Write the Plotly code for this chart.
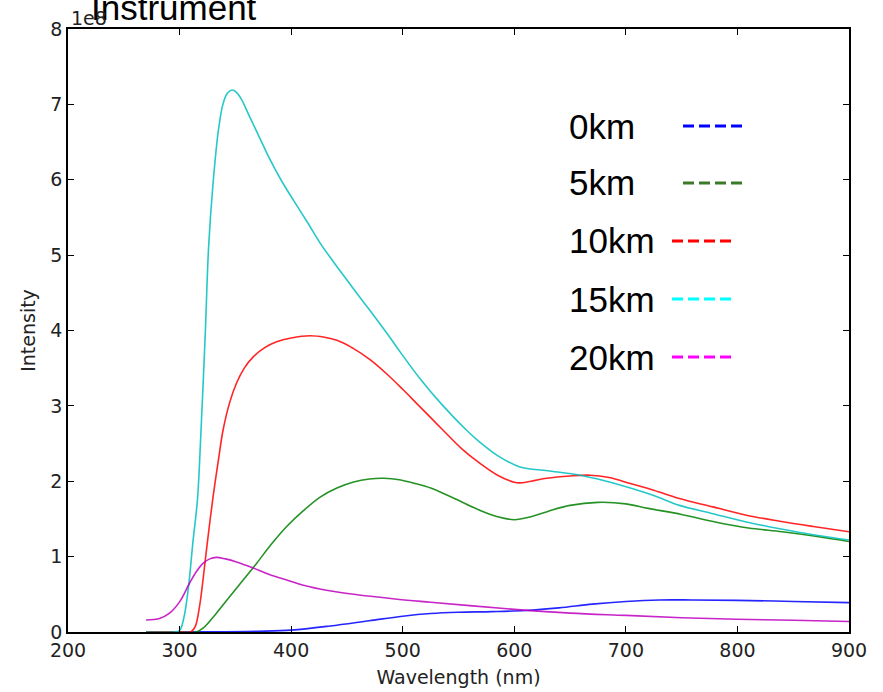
import numpy as np
import plotly.graph_objects as go

SCALE = 1e8

# ---- data (intensity in units of 1e8) ----
wl_0km = [270, 300, 340, 370, 400, 435, 470, 500, 525, 550, 580, 610, 640, 670, 700, 730, 760, 800, 850, 900]
int_0km = [0, 0, 0.003, 0.01, 0.025, 0.08, 0.15, 0.21, 0.245, 0.262, 0.27, 0.285, 0.32, 0.37, 0.405, 0.425, 0.425, 0.42, 0.405, 0.39]

wl_5km = [270, 300, 315, 321, 333, 345, 357, 369, 382, 396, 411, 426, 441, 456, 470, 483, 497, 511, 525, 545,
          570, 585, 600, 615, 630, 650, 675, 700, 720, 750, 780, 810, 840, 870, 900]
int_5km = [0, 0, 0, 0.05, 0.25, 0.47, 0.69, 0.91, 1.16, 1.40, 1.61, 1.79, 1.91, 1.99, 2.03, 2.04, 2.02, 1.97, 1.91, 1.78,
           1.61, 1.53, 1.49, 1.53, 1.60, 1.68, 1.72, 1.70, 1.64, 1.56, 1.46, 1.38, 1.33, 1.27, 1.20]

wl_10km = [270, 300, 310, 314, 318, 321, 325, 330, 335, 339, 345, 351, 358, 366, 376, 387, 400, 417, 430, 441,
           456, 471, 486, 500, 512, 524, 536, 553, 569, 585, 602, 615, 629, 650, 668, 685, 704, 725, 748, 778,
           808, 838, 868, 900]
int_10km = [0, 0, 0, 0.07, 0.35, 0.69, 1.2, 1.79, 2.3, 2.68, 3.05, 3.30, 3.50, 3.65, 3.77, 3.85, 3.90, 3.93, 3.91, 3.87,
            3.76, 3.61, 3.42, 3.22, 3.04, 2.86, 2.68, 2.43, 2.24, 2.08, 1.98, 2.00, 2.04, 2.07, 2.08, 2.05, 1.97, 1.88, 1.77, 1.66,
            1.55, 1.47, 1.40, 1.33]

wl_15km = [270, 295, 300, 304, 308, 312, 316, 319, 323, 326, 330, 335, 339, 343, 347, 351, 355, 363, 372, 381,
           392, 402, 414, 426, 438, 450, 460, 471, 487, 498, 515, 535, 557, 569, 585, 605, 630, 659, 680, 704,
           725, 748, 778, 808, 838, 868, 900]
int_15km = [0, 0, 0.02, 0.2, 0.6, 1.2, 1.75, 2.6, 3.95, 5.1, 5.95, 6.68, 7.01, 7.15, 7.19, 7.16, 7.08, 6.83, 6.55, 6.27,
            5.97, 5.73, 5.45, 5.16, 4.91, 4.67, 4.47, 4.26, 3.94, 3.71, 3.37, 3.02, 2.68, 2.52, 2.34, 2.19, 2.14, 2.08, 2.01, 1.91,
            1.81, 1.68, 1.57, 1.46, 1.37, 1.29, 1.22]

wl_20km = [270, 282, 291, 300, 309, 315, 321, 327, 333, 341, 351, 366, 381, 396, 411, 433, 456, 495, 525, 560,
           600, 650, 700, 750, 800, 850, 900]
int_20km = [0.16, 0.18, 0.25, 0.40, 0.65, 0.80, 0.91, 0.97, 0.99, 0.97, 0.93, 0.85, 0.76, 0.69, 0.62, 0.55, 0.50, 0.435, 0.395, 0.35,
            0.30, 0.25, 0.22, 0.19, 0.17, 0.155, 0.14]

labels = ["0km", "5km", "10km", "15km", "20km"]
line_colors = ["#0000ff", "#008000", "#ff0000", "#00bfbf", "#bf00bf"]
legend_colors = ["#0000ff", "#3a7a28", "#ff0000", "#00ffff", "#ff00ff"]

x_ticks = [200, 300, 400, 500, 600, 700, 800, 900]
y_ticks = [0, 1, 2, 3, 4, 5, 6, 7, 8]

series = [(wl_0km, int_0km), (wl_5km, int_5km), (wl_10km, int_10km), (wl_15km, int_15km), (wl_20km, int_20km)]

W, H = 883, 692
ML, MR, MT, MB = 68, 34, 29, 60
PW, PH = W - ML - MR, H - MT - MB

def px2paper(px, py):
    return (px - ML) / PW, (H - MB - py) / PH

fig = go.Figure()
for (wl, iv), name, col in zip(series, labels, line_colors):
    fig.add_trace(go.Scatter(
        x=wl, y=np.array(iv) * SCALE, mode="lines", name=name,
        line=dict(color=col, width=1.6, shape="spline", smoothing=1.0),
        opacity=0.85, showlegend=False, hoverinfo="skip"))

# custom legend: text then dashed sample
leg_y = [126, 183, 241, 299, 357]
leg_x0 = [683, 683, 672, 672, 672]
for lab, col, py, lx in zip(labels, legend_colors, leg_y, leg_x0):
    tx, ty = px2paper(567, py)
    fig.add_annotation(xref="paper", yref="paper", x=tx, y=ty, text=lab, showarrow=False,
                       xanchor="left", yanchor="middle",
                       font=dict(family="Liberation Sans, Arial", size=35, color="black"))
    x0, y0 = px2paper(lx, py)
    x1, _ = px2paper(lx + 60, py)
    fig.add_shape(type="line", xref="paper", yref="paper", x0=x0, x1=x1, y0=y0, y1=y0,
                  line=dict(color=col, width=3, dash="11px,5px"))

# title (partially cut off at the top) and offset text
tx, ty = px2paper(89, 29)
fig.add_annotation(xref="paper", yref="paper", x=tx, y=ty, text="Instrument", showarrow=False,
                   xanchor="left", yanchor="bottom",
                   font=dict(family="Liberation Sans, Arial", size=35, color="black"))
ox, oy = px2paper(69, 31)
fig.add_annotation(xref="paper", yref="paper", x=ox, y=oy, text="1e8", showarrow=False,
                   xanchor="left", yanchor="bottom",
                   font=dict(family="DejaVu Sans", size=19, color="#222"))

axis_common = dict(showgrid=False, zeroline=False, showline=True, linecolor="black", linewidth=1.5,
                   mirror="ticks", ticks="inside", ticklen=6, tickwidth=1, tickcolor="black",
                   automargin=False,
                   tickfont=dict(family="DejaVu Sans", size=19, color="#222"))

fig.update_xaxes(range=[200, 900], tickvals=x_ticks, ticktext=[str(v) for v in x_ticks],
                 title=dict(text="Wavelength (nm)", font=dict(family="DejaVu Sans", size=19, color="#222"), standoff=11),
                 **axis_common)
fig.update_yaxes(range=[0, 8 * SCALE], tickvals=[v * SCALE for v in y_ticks], ticktext=[str(v) for v in y_ticks],
                 title=dict(text="Intensity", font=dict(family="DejaVu Sans", size=19, color="#222"), standoff=10),
                 **axis_common)

fig.update_layout(width=W, height=H, margin=dict(l=ML, r=MR, t=MT, b=MB, autoexpand=False),
                  plot_bgcolor="white", paper_bgcolor="white")

fig.write_html("out.html")
